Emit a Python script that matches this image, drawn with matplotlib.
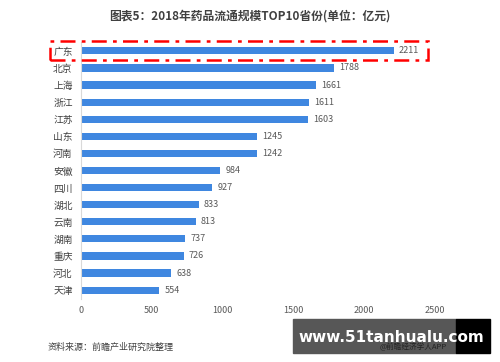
import matplotlib
matplotlib.use("Agg")
import matplotlib.pyplot as plt
from matplotlib.patches import Rectangle

plt.rcParams['font.family'] = ['Noto Sans CJK SC', 'DejaVu Sans']

provinces = ["广东", "北京", "上海", "浙江", "江苏", "山东", "河南", "安徽", "四川",
             "湖北", "云南", "湖南", "重庆", "河北", "天津"]
values = [2211, 1788, 1661, 1611, 1603, 1245, 1242, 984, 927, 833, 813, 737, 726, 638, 554]
xticks = [0, 500, 1000, 1500, 2000, 2500]

title = "图表5：2018年药品流通规模TOP10省份(单位：亿元)"
source = "资料来源：前瞻产业研究院整理"

fig = plt.figure(figsize=(5, 3.62), dpi=100)
ax = fig.add_axes([0.162, 0.175, 0.708, 0.708])

n = len(provinces)
ypos = list(range(n))[::-1]
ax.barh(ypos, values, height=0.42, color="#3f87e0")
for y, v in zip(ypos, values):
    ax.text(v + 35, y, str(v), va="center", ha="left", fontsize=6.5, color="#595959")

ax.set_xlim(0, 2500)
ax.set_ylim(-0.5, n - 0.5)
ax.set_yticks(ypos)
ax.set_yticklabels(provinces, fontsize=7, color="#404040")
ax.set_xticks(xticks)
ax.set_xticklabels([str(t) for t in xticks], fontsize=6.5, color="#595959")
ax.tick_params(axis="both", length=0)
ax.tick_params(axis="x", pad=5)
ax.tick_params(axis="y", pad=6)
for s in ["top", "right", "bottom"]:
    ax.spines[s].set_visible(False)
ax.spines["left"].set_color("#d9d9d9")

fig.text(0.5, 0.957, title, ha="center", va="center", fontsize=8.5,
         fontweight="bold", color="#404040")

# red dash-dot highlight box
box = Rectangle((0.10, 1 - 60 / 362), 0.756, 19 / 362, transform=fig.transFigure,
                fill=False, edgecolor="#ff0000", linewidth=1.8,
                linestyle=(0, (6, 2.5, 1.5, 2.5)))
fig.patches.append(box)

fig.text(0.096, 1 - 347 / 362, source, ha="left", va="center", fontsize=6.5, color="#404040")

# watermark banner
fig.patches.append(Rectangle((293 / 500, 1 - 353 / 362), 163 / 500, 34 / 362,
                             transform=fig.transFigure, color="#575757"))
fig.patches.append(Rectangle((456 / 500, 1 - 353 / 362), 34 / 500, 34 / 362,
                             transform=fig.transFigure, color="#000000"))
fig.text(391 / 500, 1 - 337 / 362, "www.51tanhualu.com", ha="center", va="center",
         fontsize=11, fontweight="bold", color="white", family=["DejaVu Sans"])
fig.text(413 / 500, 1 - 347.5 / 362, "@前瞻经济学人APP", ha="center", va="center",
         fontsize=5.5, color="#222222")

fig.savefig("out.png", dpi=100)
